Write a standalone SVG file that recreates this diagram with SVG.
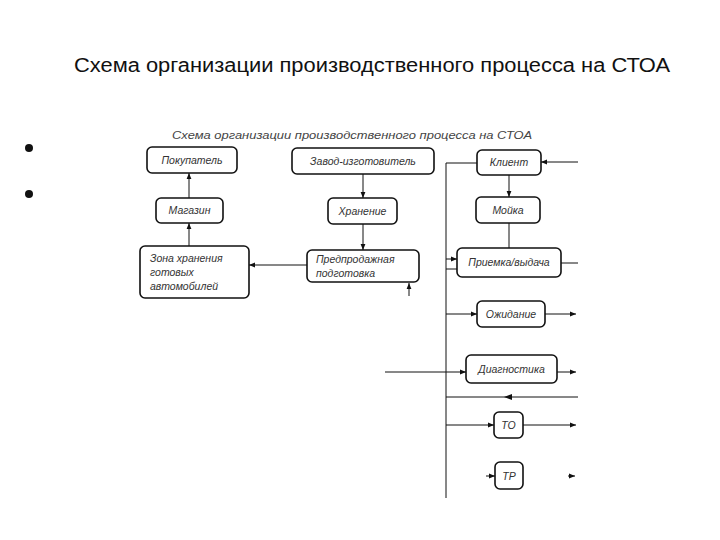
<svg xmlns="http://www.w3.org/2000/svg" width="720" height="540" viewBox="0 0 720 540">
<defs>
<style>
.bg{fill:#fff}
.title{font-family:"Liberation Sans",Arial,sans-serif;font-size:20px;fill:#111}
.sub{font-family:"Liberation Sans",Arial,sans-serif;font-style:italic;font-size:11px;fill:#444}
.box{fill:#fff;stroke:#111;stroke-width:1.6}
.lbl{font-family:"Liberation Sans",Arial,sans-serif;font-style:italic;font-size:10.5px;fill:#333;text-anchor:middle}
.lbs{font-family:"Liberation Sans",Arial,sans-serif;font-style:italic;font-size:10.5px;fill:#333;text-anchor:start}
.ln{fill:none;stroke:#111;stroke-width:1}
.arr{marker-end:url(#ah)}
</style>
<marker id="ah" viewBox="0 0 10 10" refX="10" refY="5" markerWidth="7" markerHeight="6" orient="auto" markerUnits="userSpaceOnUse">
<path d="M0,1 L10,5 L0,9 z" fill="#111"/>
</marker>
</defs>
<rect class="bg" x="0" y="0" width="720" height="540"/>
<text class="title" x="372" y="72" text-anchor="middle" textLength="596" lengthAdjust="spacingAndGlyphs">Схема организации производственного процесса на СТОА</text>
<circle cx="29" cy="148" r="4" fill="#111"/>
<circle cx="29" cy="194" r="4" fill="#111"/>
<text class="sub" x="352" y="139" text-anchor="middle" textLength="360" lengthAdjust="spacingAndGlyphs">Схема организации производственного процесса на СТОА</text>

<g id="connectors">
<line class="ln arr" x1="189" y1="198" x2="189" y2="173"/>
<line class="ln arr" x1="189" y1="246" x2="189" y2="223"/>
<line class="ln arr" x1="307" y1="265" x2="249" y2="265"/>
<line class="ln arr" x1="363" y1="174" x2="363" y2="198"/>
<line class="ln arr" x1="363" y1="224" x2="363" y2="250"/>
<line class="ln arr" x1="409" y1="296" x2="409" y2="283"/>
<polyline class="ln" points="477,163 446,163 446,498"/>
<line class="ln arr" x1="446" y1="259" x2="457" y2="259"/>
<line class="ln" x1="446" y1="269" x2="457" y2="269"/>
<line class="ln arr" x1="509" y1="175" x2="509" y2="197"/>
<line class="ln" x1="509" y1="223" x2="509" y2="248"/>
<line class="ln arr" x1="578" y1="162" x2="541" y2="162"/>
<line class="ln" x1="561" y1="263" x2="578" y2="263"/>
<line class="ln arr" x1="446" y1="314" x2="477" y2="314"/>
<line class="ln arr" x1="545" y1="314" x2="576" y2="314"/>
<line class="ln arr" x1="385" y1="372" x2="466" y2="372"/>
<line class="ln arr" x1="557" y1="372" x2="576" y2="372"/>
<line class="ln" x1="446" y1="397" x2="578" y2="397"/>
<path d="M504,397 L512,394 L512,400 z" fill="#111"/>
<line class="ln arr" x1="446" y1="425" x2="494" y2="425"/>
<line class="ln arr" x1="523" y1="425" x2="576" y2="425"/>
<line class="ln arr" x1="486" y1="476" x2="495" y2="476"/>
<line class="ln arr" x1="568" y1="476" x2="575" y2="476"/>
</g>

<g id="pokupatel"><rect class="box" x="147" y="147" width="90" height="26" rx="5"/><text class="lbl" x="192" y="164">Покупатель</text></g>
<g id="magazin"><rect class="box" x="156" y="198" width="67" height="25" rx="5"/><text class="lbl" x="189.5" y="214">Магазин</text></g>
<g id="zona"><rect class="box" x="140" y="246" width="109" height="52" rx="5"/><text class="lbs" x="150" y="262">Зона хранения</text><text class="lbs" x="150" y="276">готовых</text><text class="lbs" x="150" y="290">автомобилей</text></g>
<g id="zavod"><rect class="box" x="292" y="148" width="142" height="26" rx="5"/><text class="lbl" x="363" y="165">Завод-изготовитель</text></g>
<g id="hranenie"><rect class="box" x="328" y="198" width="69" height="26" rx="5"/><text class="lbl" x="362.5" y="215">Хранение</text></g>
<g id="predprod"><rect class="box" x="307" y="250" width="112" height="32" rx="5"/><text class="lbs" x="316" y="263">Предпродажная</text><text class="lbs" x="316" y="277">подготовка</text></g>
<g id="klient"><rect class="box" x="477" y="150" width="64" height="25" rx="5"/><text class="lbl" x="509" y="166">Клиент</text></g>
<g id="moyka"><rect class="box" x="476" y="197" width="64" height="26" rx="5"/><text class="lbl" x="508" y="214">Мойка</text></g>
<g id="priemka"><rect class="box" x="457" y="248" width="104" height="29" rx="5"/><text class="lbl" x="509" y="266">Приемка/выдача</text></g>
<g id="ozhidanie"><rect class="box" x="477" y="301" width="68" height="26" rx="5"/><text class="lbl" x="511" y="318">Ожидание</text></g>
<g id="diagnostika"><rect class="box" x="466" y="355" width="91" height="28" rx="5"/><text class="lbl" x="511.5" y="373">Диагностика</text></g>
<g id="to"><rect class="box" x="494" y="412" width="29" height="26" rx="5"/><text class="lbl" x="508.5" y="429">ТО</text></g>
<g id="tr"><rect class="box" x="495" y="462" width="28" height="27" rx="5"/><text class="lbl" x="509" y="480">ТР</text></g>
</svg>
